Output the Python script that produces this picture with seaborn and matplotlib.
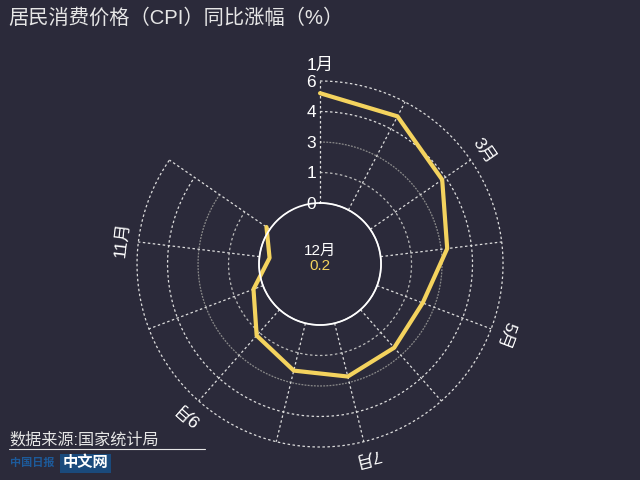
# 居民消费价格（CPI）同比涨幅 - 极坐标折线图
import numpy as np
import pandas as pd
import matplotlib.pyplot as plt
import seaborn as sns
from matplotlib.lines import Line2D
from matplotlib.transforms import offset_copy

# 数据
months = ["1月", "2月", "3月", "4月", "5月", "6月",
          "7月", "8月", "9月", "10月", "11月", "12月"]
cpi = [5.4, 5.2, 4.3, 3.3, 2.4, 2.5, 2.7, 2.4, 1.7, 0.5, -0.5, 0.2]
r_ticks = [0, 1.5, 3, 4.5, 6]
r_labels = ["0", "1", "3", "4", "6"]
month_labels_shown = ["1月", "3月", "5月", "7月", "9月", "11月"]

bg = "#2b2a3a"
yellow = "#f4d35e"

sns.set_theme(style="dark", rc={"axes.facecolor": bg, "figure.facecolor": bg})
plt.rcParams["font.family"] = ["Liberation Sans", "Noto Sans CJK SC", "DejaVu Sans"]

# 13 个等分位置，12 个月占前 12 个
step = 2 * np.pi / 13
df = pd.DataFrame({"month": months, "cpi": cpi})
df["theta"] = np.arange(len(months)) * step

fig = plt.figure(figsize=(6.4, 4.8), dpi=100)
ax = fig.add_axes([0.2141, 0.06875, 0.5719, 0.7625], projection="polar")
ax.set_facecolor(bg)
ax.patch.set_alpha(0)
ax.set_theta_zero_location("N")
ax.set_theta_direction(-1)
ax.set_ylim(0, 6)
ax.set_rorigin(-3)
ax.grid(False)
ax.set_xticks([])
ax.set_yticks([])
ax.spines["polar"].set_visible(False)
ax.spines["inner"].set_visible(False)

# 网格：圆弧 + 辐射线
t_last = df["theta"].iloc[-1]
arc = np.linspace(0, t_last, 200)
ring_style = {1.5: ("#bbbbbb", (0, (2, 2))), 3: ("#8a8a8a", (0, (1.5, 1))),
              4.5: ("#dddddd", (0, (2, 2))), 6: ("#dddddd", (0, (2, 2)))}
for r in r_ticks[1:]:
    c, ls = ring_style[r]
    ax.plot(arc, np.full_like(arc, r), color=c, lw=0.9, ls=ls, clip_on=False)
for t in df["theta"]:
    ax.plot([t, t], [0, 6], color="#dddddd", lw=0.9, ls=(0, (2, 2)), clip_on=False)

# 内圈轴线（到 12 月为浅色，之后一段为灰色，顶部留缺口）
inner = np.linspace(0, t_last, 300)
ax.plot(inner, np.zeros_like(inner), color="#d6d6d6", lw=1.0, clip_on=False)
tail = np.linspace(t_last, 12 * step, 40)
ax.plot(tail, np.zeros_like(tail), color="#8f8f8f", lw=1.0, clip_on=False)

# 折线
sns.lineplot(data=df, x="theta", y="cpi", ax=ax, color=yellow, lw=3,
             sort=False, clip_on=False)
ax.set_xlabel("")
ax.set_ylabel("")

# 径向刻度标签
tr = offset_copy(ax.transData, fig=fig, x=-4, y=-1, units="dots")
for r, lab in zip(r_ticks, r_labels):
    ax.text(0, r, lab, transform=tr, ha="right", va="center",
            color="white", fontsize=12.5)

# 月份标签
for m in month_labels_shown:
    t = df.loc[df["month"] == m, "theta"].iloc[0]
    ax.text(t, 6.78, m, ha="center", va="center", color="white", fontsize=12.5,
            rotation=-np.degrees(t), rotation_mode="anchor")

# 中心文字
ax.text(0.5, 0.535, "12月", transform=ax.transAxes, ha="center", va="center",
        color="white", fontsize=11)
ax.text(0.5, 0.494, "0.2", transform=ax.transAxes, ha="center", va="center",
        color=yellow, fontsize=11)

# 标题与来源
fig.text(0.0125, 0.962, "居民消费价格（CPI）同比涨幅（%）", ha="left", va="center",
         color="#e6e6e6", fontsize=14.6)
fig.text(0.015, 0.083, "数据来源:国家统计局", ha="left", va="center",
         color="#e6e6e6", fontsize=11.6)
fig.add_artist(Line2D([0.014, 0.32], [0.065, 0.065], color="#e6e6e6", lw=0.8))
fig.text(0.016, 0.035, "中国日报", ha="left", va="center", color="#1d5a9a",
         fontsize=8, fontweight="bold")
fig.text(0.098, 0.035, "中文网", ha="left", va="center", color="white",
         fontsize=11, fontweight="bold",
         bbox=dict(boxstyle="square,pad=0.15", fc="#1a4a7c", ec="none"))

fig.savefig("out.png", dpi=100, facecolor=bg)
